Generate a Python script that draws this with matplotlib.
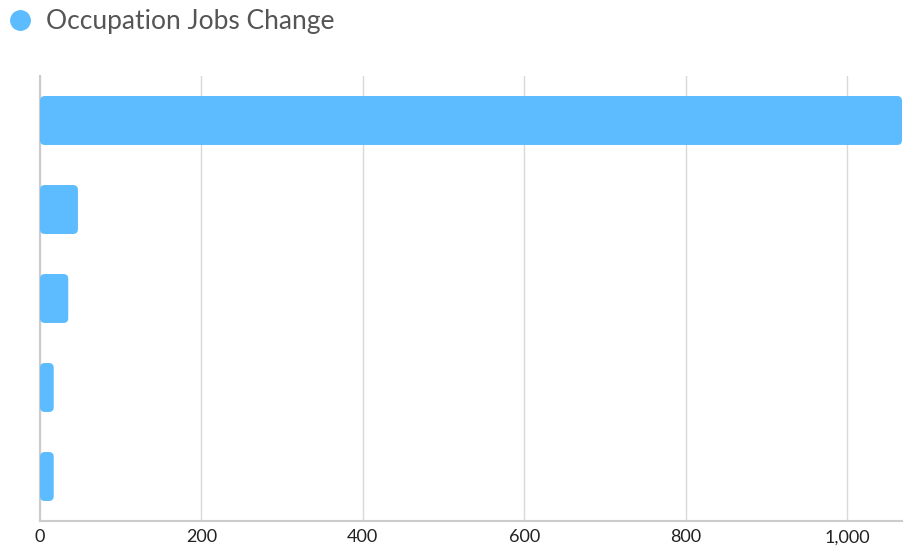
import matplotlib
matplotlib.use('Agg')
import matplotlib.pyplot as plt
from matplotlib.patches import FancyBboxPatch
from matplotlib.lines import Line2D
from matplotlib.ticker import FuncFormatter

plt.rcParams['font.family'] = ['Lato', 'DejaVu Sans']

series_name = 'Occupation Jobs Change'
categories = ['A', 'B', 'C', 'D', 'E']
values = [1068, 47, 35, 17, 17]
xticks = [0, 200, 400, 600, 800, 1000]

bar_color = '#5cbcff'

fig = plt.figure(figsize=(9.11, 5.48), dpi=100)
ax = fig.add_axes([40 / 911, 27 / 548, 862 / 911, 445 / 548])

ypos = list(range(len(categories)))
bars = ax.barh(ypos, values, height=0.55, color=bar_color)
ax.set_xlim(0, max(values))
ax.set_ylim(len(categories) - 0.5, -0.5)

# swap plain bars for rounded ones
for b in bars:
    x, y = b.get_x(), b.get_y()
    w, h = b.get_width(), b.get_height()
    b.set_visible(False)
    rb = FancyBboxPatch((x, y), w, h,
                        boxstyle='round,pad=0,rounding_size=6',
                        mutation_aspect=0.009,
                        facecolor=bar_color, edgecolor='none', zorder=3)
    ax.add_patch(rb)

ax.set_xticks(xticks)
ax.xaxis.set_major_formatter(FuncFormatter(lambda v, p: '{:,.0f}'.format(v)))
ax.set_yticks([])
ax.grid(axis='x', color='#d9d9d9', linewidth=1)
ax.set_axisbelow(True)
for s in ['top', 'right']:
    ax.spines[s].set_visible(False)
for s in ['left', 'bottom']:
    ax.spines[s].set_color('#cccccc')
    ax.spines[s].set_linewidth(1.5)
ax.tick_params(axis='x', length=0, labelsize=13, labelcolor='#222222', pad=6)

# legend at top
fig.add_artist(Line2D([20 / 911], [1 - 20 / 548], marker='o', markersize=14,
                      color=bar_color, transform=fig.transFigure))
fig.text(46 / 911, 1 - 22 / 548, series_name, fontsize=19, color='#555555',
         va='center', ha='left')

fig.savefig('out.png', dpi=100)
